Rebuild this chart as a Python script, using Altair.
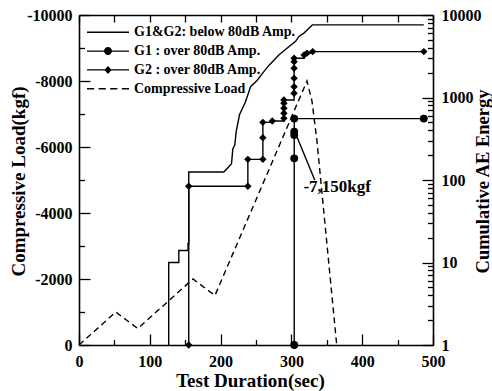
import altair as alt
import pandas as pd

# ---- data -----------------------------------------------------------------
# compressive load history (left axis, kgf)
load_time = [0, 52, 83, 161, 192, 322, 329, 336, 364]
load_kgf = [0, -1000, -500, -2000, -1500, -8000, -7400, -6200, 0]

# cumulative AE energy of all hits below 80 dB amplitude, G1 & G2 (right axis)
below_time = [126.7, 126.7, 141, 141, 154, 154, 155, 155, 204.5, 211.6, 215.4,
              217.3, 220, 222, 226.7, 235.2, 242.3, 251.8, 258.8, 268.2, 282.3,
              294.2, 306, 310.6, 317.7, 324.8, 329.6, 487]
below_energy = [1, 10, 10, 14, 14, 17, 17, 125, 125, 145, 158, 240, 263, 385,
                617, 890, 1350, 1620, 1950, 2450, 3280, 3980, 4790, 5500, 6030,
                6920, 7590, 7590]

# sensor G1, hits over 80 dB amplitude
g1_time = [304, 304, 304, 304, 304, 487]
g1_energy = [1, 183, 350, 385, 555, 555]

# sensor G2, hits over 80 dB amplitude
g2_time = [155, 155, 238.5, 238.5, 259.7, 259.7, 259.7, 273, 289.4, 289.4,
           289.4, 289.4, 289.4, 303.8, 303.8, 303.8, 303.8, 303.8, 303.8, 318,
           322, 330, 487]
g2_energy = [1, 84, 84, 178, 178, 325, 500, 520, 559, 643, 740, 850, 933, 1125,
             1353, 1711, 2261, 2718, 2990, 3280, 3450, 3600, 3600]

# load when G1 jumps, with its leader line
note_text = ["-7,150kgf"]
note_time = [317]
note_load = [-4800]
leader_time = [306, 333]
leader_load = [-6400, -5000]

legend_labels = ["G1&G2: below 80dB Amp.", "G1 : over 80dB Amp.",
                 "G2 : over 80dB Amp.", "Compressive Load"]

# ---- style ----------------------------------------------------------------
FONT = "Liberation Serif"
W, H = 354, 330
LW = 1.4

x_values = list(range(0, 501, 50))
load_values = list(range(0, -10001, -1000))
log_values = [m * 10 ** k for k in range(4) for m in range(1, 10)] + [10000]


# legend symbols: filled custom paths in a [-1, 1] box (strokes become thin bars)
def bar(x0, x1, h=0.034):
    return f"M{x0},{-h}L{x1},{-h}L{x1},{h}L{x0},{h}Z"


CIRCLE = "M0.19,0A0.19,0.19,0,1,1,-0.19,0A0.19,0.19,0,1,1,0.19,0Z"
DIAMOND = "M0,-0.19L0.17,0L0,0.19L-0.17,0Z"
legend_paths = [
    bar(-1, 1),
    bar(-1, 1) + CIRCLE,
    bar(-1, 1) + DIAMOND,
    bar(-1, -0.66) + bar(-0.447, -0.107) + bar(0.106, 0.446) + bar(0.66, 1),
]


def tick_len(test, major, minor):
    return {"condition": {"test": test, "value": major}, "value": minor}


# ---- load group (left and bottom axes) -------------------------------------
x_load = alt.X(
    "t:Q",
    scale=alt.Scale(domain=[0, 500], nice=False),
    axis=alt.Axis(
        values=x_values,
        labelExpr="datum.value % 100 == 0 ? '' + datum.value : ''",
        tickSize=tick_len("datum.value % 100 == 0", -11, -5.5),
        labelPadding=19,
        title="Test Duration(sec)",
        titleX=171, titleY=35, titleBaseline="middle", titleAlign="center",
    ),
)
y_load = alt.Y(
    "load:Q",
    scale=alt.Scale(domain=[0, -10000], nice=False),
    axis=alt.Axis(
        orient="left",
        values=load_values,
        labelExpr="datum.value % 2000 == 0 ? '' + datum.value : ''",
        tickSize=tick_len("datum.value % 2000 == 0", -11, -5.5),
        labelPadding=18,
        title="Compressive Load(kgf)",
        titleAngle=270, titleX=-61, titleY=166,
        titleBaseline="middle", titleAlign="center",
    ),
)

load_df = pd.DataFrame({"t": load_time, "load": load_kgf})
leader_df = pd.DataFrame({"t": leader_time, "load": leader_load})
note_df = pd.DataFrame({"t": note_time, "load": note_load, "txt": note_text})

load_line = alt.Chart(load_df).mark_line(
    color="black", strokeWidth=LW, strokeDash=[6, 4]
).encode(x=x_load, y=y_load)

leader = alt.Chart(leader_df).mark_line(color="black", strokeWidth=LW).encode(
    x=x_load, y=y_load
)

note = alt.Chart(note_df).mark_text(
    font=FONT, fontSize=17, fontWeight="bold", color="black",
    align="left", baseline="middle",
).encode(x=x_load, y=y_load, text="txt:N")

load_group = alt.layer(load_line, leader, note)

# ---- AE energy group (right and top axes) ----------------------------------
x_top = alt.X(
    "t:Q",
    scale=alt.Scale(domain=[0, 500], nice=False),
    axis=alt.Axis(
        orient="top", values=x_values, labels=False, title=None,
        tickSize=tick_len("datum.value % 100 == 0", -7, -7),
    ),
)
y_ae = alt.Y(
    "energy:Q",
    scale=alt.Scale(type="log", domain=[1, 10000], nice=False),
    axis=alt.Axis(
        orient="right",
        values=log_values,
        labelExpr="indexof([1, 10, 100, 1000, 10000], datum.value) >= 0 ? '' + datum.value : ''",
        tickSize=tick_len("indexof([1, 10, 100, 1000, 10000], datum.value) >= 0", -11, -5.5),
        labelPadding=19,
        title="Cumulative AE Energy",
        titleAngle=270, titleX=49, titleY=166, titleFontSize=18.5,
        titleBaseline="middle", titleAlign="center",
    ),
)

below_df = pd.DataFrame({"t": below_time, "energy": below_energy,
                         "i": range(len(below_time))})
g1_df = pd.DataFrame({"t": g1_time, "energy": g1_energy, "i": range(len(g1_time))})
g2_df = pd.DataFrame({"t": g2_time, "energy": g2_energy, "i": range(len(g2_time))})

below_line = alt.Chart(below_df).mark_line(color="black", strokeWidth=LW).encode(
    x=x_top, y=y_ae, order="i:Q"
)
g1_line = alt.Chart(g1_df).mark_line(
    color="black", strokeWidth=LW, interpolate="step-after"
).encode(x=x_top, y=y_ae, order="i:Q")
g1_pts = alt.Chart(g1_df).mark_point(
    shape="circle", filled=True, color="black", size=62, opacity=1
).encode(x=x_top, y=y_ae)
g2_line = alt.Chart(g2_df).mark_line(
    color="black", strokeWidth=LW, interpolate="step-after"
).encode(x=x_top, y=y_ae, order="i:Q")
g2_pts = alt.Chart(g2_df).mark_point(
    shape="diamond", filled=True, color="black", size=55, opacity=1
).encode(x=x_top, y=y_ae)

# legend only: the rows are filtered away, the shape scale keeps its domain
legend_layer = alt.Chart(pd.DataFrame({"series": legend_labels})).mark_point(
    filled=True, color="black"
).encode(
    shape=alt.Shape(
        "series:N",
        scale=alt.Scale(domain=legend_labels, range=legend_paths),
        legend=alt.Legend(
            title=None, orient="none", legendX=7, legendY=10.3, padding=0,
            direction="vertical",
            symbolSize=1764, symbolOpacity=1, symbolFillColor="black",
            clipHeight=14, rowPadding=4.8, labelOffset=4,
            labelFont=FONT, labelFontSize=14, labelFontWeight="bold",
            labelColor="black", labelLimit=300,
        ),
    )
).transform_filter("false")

ae_group = alt.layer(below_line, g1_line, g2_line, g1_pts, g2_pts, legend_layer)

chart = (
    alt.layer(load_group, ae_group)
    .resolve_scale(x="independent", y="independent")
    .properties(
        width=W, height=H,
        autosize=alt.AutoSizeParams(type="none"),
        padding={"left": 79, "top": 15, "right": 59, "bottom": 46},
        background="white",
    )
    .configure_view(stroke=None)
    .configure_axis(
        domainColor="black", domainWidth=1.6,
        tickColor="black", tickWidth=1.3,
        labelFont=FONT, labelFontSize=16, labelFontWeight="bold",
        labelColor="black", labelOverlap=False, labelFlush=False,
        titleFont=FONT, titleFontSize=19, titleFontWeight="bold",
        titleColor="black", grid=False,
    )
)

chart.save("out.html", embed_options={"renderer": "svg", "actions": False})
